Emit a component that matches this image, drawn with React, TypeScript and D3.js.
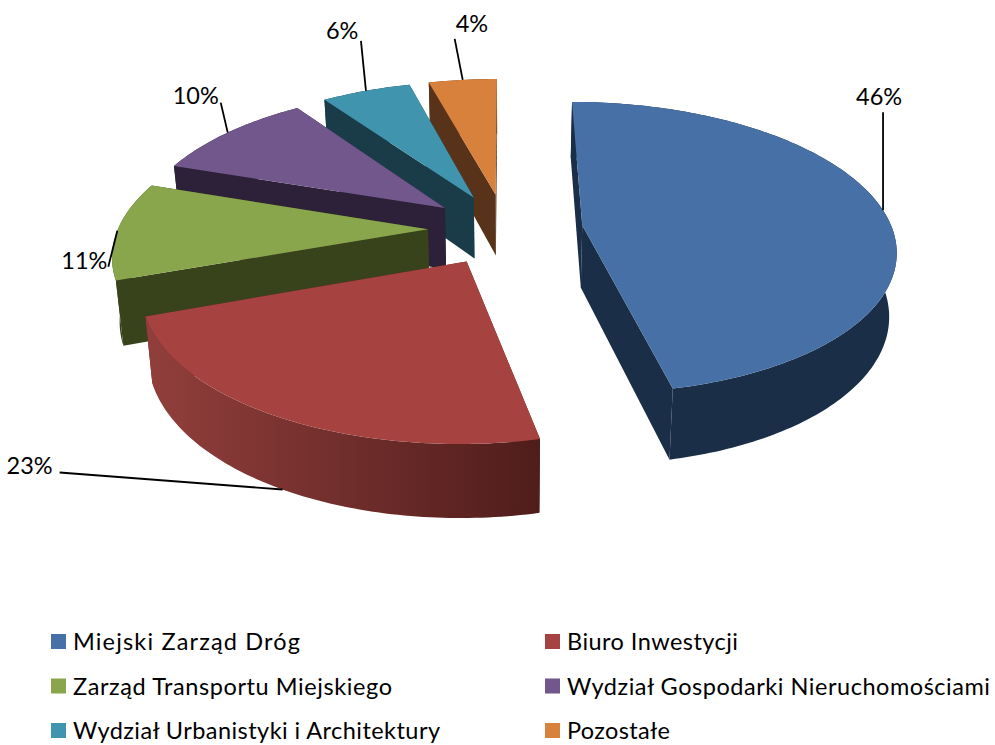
import React from "react";
import * as d3 from "d3";

const categories = [
  "Miejski Zarząd Dróg",
  "Biuro Inwestycji",
  "Zarząd Transportu Miejskiego",
  "Wydział Gospodarki Nieruchomościami",
  "Wydział Urbanistyki i Architektury",
  "Pozostałe",
];
const shares = [46.6, 22.9, 10.7, 10.1, 5.5, 4.2];
const percentLabels = ["46%", "23%", "11%", "10%", "6%", "4%"];

const topColors = ["#4670a6", "#a64340", "#8aa64c", "#72578d", "#4194ad", "#d8813c"];
const wallColors = ["#1b2e47", "#5a2220", "#38421b", "#2c2138", "#193c48", "#58331a"];
const rimStops: string[][] = [
  ["#1b2e47", "#1b2e47"],
  ["#923f3c", "#4f1d1b"],
  ["#38421b", "#38421b"],
  ["#2c2138", "#2c2138"],
  ["#193c48", "#193c48"],
  ["#58331a", "#58331a"],
];
// leader-line end relative to the anchor on the pie rim
const leaderEnd = [[0, -98], [-223, -17], [-9, 36], [-7, -30], [-5, -50], [-8, -41]];
const labelOffset = [[-27, -7], [-7, 1], [-47, 2], [-48, 1], [-35, -2], [1, -7]];
// the red slice's anchor sits on the lower rim, the others on the upper rim
const anchorOnBottom = [false, true, false, false, false, false];
const anchorShift = [0, 0.005, 0, 0, 0, 0];
const labelAnchor = ["start", "end", "start", "start", "start", "start"];
const legendWidths = [227, 171, 319, 423, 367, 103];

const FONT = "Lato, Carlito, sans-serif";
const x0 = 505.5;
const explode = 0.25;
const persp = 0.154;
const topPlane = { cy: 229, rx: 310, ry: 143.3 };
const bottomPlane = { cy: 291.5, rx: 304, ry: 151 };
type Plane = typeof topPlane;

const project = (p: Plane, U: number, V: number): [number, number] => {
  const w = 1 + persp * V;
  return [x0 + (p.rx * U) / w, p.cy - (p.ry * V) / w];
};

const pieGen = d3.pie<number>().sort(null).value((d) => d).startAngle(0).endAngle(2 * Math.PI);
const slices = pieGen(shares);
const lineGen = d3.line<[number, number]>();

function geometry(i: number) {
  const s = slices[i];
  const mid = (s.startAngle + s.endAngle) / 2;
  const ax = explode * Math.sin(mid);
  const ay = explode * Math.cos(mid);
  const n = Math.max(12, Math.ceil(((s.endAngle - s.startAngle) * 180) / Math.PI));
  const thetas = d3.range(n + 1).map((k) => s.startAngle + ((s.endAngle - s.startAngle) * k) / n);
  const rim = (p: Plane) => thetas.map((t) => project(p, ax + Math.sin(t), ay + Math.cos(t)));
  const apex = (p: Plane) => project(p, ax, ay);
  const at = (p: Plane, t: number) => project(p, ax + Math.sin(t), ay + Math.cos(t));
  return { mid, rim, apex, at, s };
}

const drawOrder = [5, 4, 3, 2, 0, 1];

export default function App() {
  return (
    <svg
      width={995}
      height={745}
      viewBox="0 0 995 745"
      style={{ position: "absolute", left: 0, top: 0, background: "#fff" }}
    >
      <defs>
        {categories.map((_, i) => {
          const g = geometry(i);
          const xs = g.rim(topPlane).map((d) => d[0]);
          return (
            <linearGradient
              key={i}
              id={`rim${i}`}
              gradientUnits="userSpaceOnUse"
              x1={d3.min(xs)}
              x2={d3.max(xs)}
              y1={0}
              y2={0}
            >
              <stop offset="0" stopColor={rimStops[i][0]} />
              <stop offset="1" stopColor={rimStops[i][1]} />
            </linearGradient>
          );
        })}
      </defs>

      {drawOrder.map((i) => {
        const g = geometry(i);
        const topRim = g.rim(topPlane);
        const botRim = g.rim(bottomPlane);
        const wall = (t: number) =>
          lineGen([g.apex(topPlane), g.at(topPlane, t), g.at(bottomPlane, t), g.apex(bottomPlane)]) + "Z";
        return (
          <g key={i}>
            <path d={wall(g.s.startAngle)} fill={wallColors[i]} />
            <path d={wall(g.s.endAngle)} fill={wallColors[i]} />
            <path d={lineGen([...topRim, ...botRim.slice().reverse()]) + "Z"} fill={`url(#rim${i})`} />
            <path d={lineGen([g.apex(topPlane), ...topRim]) + "Z"} fill={topColors[i]} />
          </g>
        );
      })}

      {categories.map((_, i) => {
        const g = geometry(i);
        const [ax, ay] = g.at(anchorOnBottom[i] ? bottomPlane : topPlane, g.mid + anchorShift[i]);
        const ex = ax + leaderEnd[i][0];
        const ey = ay + leaderEnd[i][1];
        return (
          <g key={i}>
            <line x1={ax} y1={ay} x2={ex} y2={ey} stroke="#000" strokeWidth={1.8} />
            <text
              x={ex + labelOffset[i][0]}
              y={ey + labelOffset[i][1]}
              fontFamily={FONT}
              fontSize={23.5}
              textAnchor={labelAnchor[i]}
              fill="#000"
            >
              {percentLabels[i]}
            </text>
          </g>
        );
      })}

      {categories.map((c, i) => {
        const col = i % 2;
        const row = Math.floor(i / 2);
        const sx = col === 0 ? 51 : 545;
        const sy = 634 + row * 44.5;
        return (
          <g key={c}>
            <rect x={sx} y={sy} width={15} height={15} fill={topColors[i]} />
            <text
              x={sx + 22}
              y={sy + 16}
              fontFamily={FONT}
              fontSize={23.5}
              fill="#000"
              textLength={legendWidths[i]}
              lengthAdjust="spacing"
            >
              {c}
            </text>
          </g>
        );
      })}
    </svg>
  );
}
